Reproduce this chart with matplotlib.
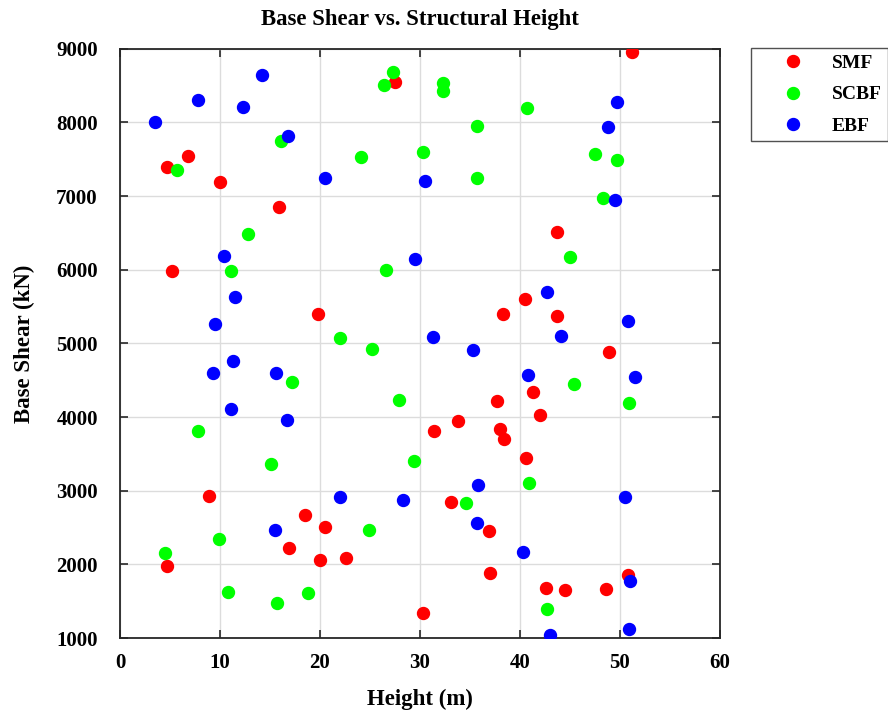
import matplotlib
matplotlib.use("Agg")
import matplotlib.pyplot as plt

# Height (m) and base shear (kN) for each system
smf_h = [27.5, 51.2, 6.75, 4.7, 10.0, 15.85, 43.7, 5.24, 19.8, 40.5, 38.3, 43.7,
         48.85, 41.25, 37.7, 42.0, 33.75, 31.4, 37.95, 38.4, 40.6, 8.9, 33.05, 18.5,
         20.46, 36.9, 16.9, 22.6, 19.95, 4.67, 36.97, 50.8, 42.6, 44.5, 48.6, 30.34]
smf_v = [8548, 8960, 7539, 7399, 7195, 6851, 6507, 5978, 5399, 5600, 5394, 5371,
         4887, 4335, 4213, 4023, 3946, 3806, 3833, 3702, 3448, 2932, 2842, 2665,
         2511, 2453, 2217, 2086, 2055, 1982, 1887, 1855, 1675, 1648, 1669, 1344]

scbf_h = [27.3, 26.4, 32.25, 32.25, 40.7, 35.7, 16.1, 47.5, 30.3, 24.05, 49.7, 5.67,
          35.7, 48.3, 12.8, 45.0, 26.6, 11.06, 21.97, 25.2, 17.2, 45.4, 27.86, 50.9,
          7.78, 15.1, 29.4, 40.85, 34.56, 24.9, 9.86, 4.54, 10.8, 18.8, 15.7, 42.7]
scbf_v = [8688, 8507, 8535, 8426, 8191, 7951, 7751, 7566, 7602, 7534, 7489, 7354,
          7241, 6978, 6489, 6172, 6000, 5978, 5066, 4919, 4480, 4448, 4227, 4195,
          3806, 3367, 3407, 3108, 2829, 2466, 2349, 2158, 1624, 1607, 1475, 1398]

ebf_h = [14.2, 7.8, 12.3, 3.5, 16.8, 49.7, 48.75, 20.5, 30.5, 49.45, 10.4, 29.5,
         42.7, 11.5, 50.8, 9.46, 44.1, 31.3, 35.3, 11.26, 9.29, 15.6, 40.8, 51.5,
         11.06, 16.7, 35.76, 22.04, 28.26, 50.5, 35.66, 15.5, 40.3, 50.95, 43.0, 50.9]
ebf_v = [8643, 8300, 8213, 8000, 7819, 8281, 7942, 7241, 7204, 6951, 6190, 6150,
         5693, 5634, 5304, 5258, 5104, 5090, 4910, 4765, 4602, 4602, 4575, 4539,
         4113, 3955, 3077, 2918, 2873, 2918, 2557, 2466, 2163, 1774, 1041, 1122]

x_ticks = [0, 10, 20, 30, 40, 50, 60]
y_ticks = [1000, 2000, 3000, 4000, 5000, 6000, 7000, 8000, 9000]

plt.rcParams['font.family'] = ['Liberation Serif', 'DejaVu Serif']
plt.rcParams['font.weight'] = 'bold'

fig = plt.figure(figsize=(8.88, 7.11), dpi=100)
ax = fig.add_axes([120 / 888, 73 / 711, 600 / 888, 589.3 / 711])

ms = 8.6
ax.plot(smf_h, smf_v, 'o', color=(1, 0, 0), ms=ms, label='SMF', zorder=3)
ax.plot(scbf_h, scbf_v, 'o', color=(0, 1, 0), ms=ms, label='SCBF', zorder=3)
ax.plot(ebf_h, ebf_v, 'o', color=(0, 0, 1), ms=ms, label='EBF', zorder=3)

ax.set_xlim(0, 60)
ax.set_ylim(1000, 9000)
ax.set_xticks(x_ticks)
ax.set_yticks(y_ticks)
ax.grid(True, color='#dcdcdc', linewidth=1.0)
ax.set_axisbelow(True)

ax.tick_params(direction='in', top=True, right=True, length=6, width=1.2,
               labelsize=15, color='#262626')
ax.tick_params(axis='x', pad=11)
ax.tick_params(axis='y', pad=16)
for s in ax.spines.values():
    s.set_linewidth(1.3)
    s.set_color('#262626')

ax.set_title('Base Shear vs. Structural Height', fontsize=16.4, fontweight='bold', pad=17)
ax.set_xlabel('Height (m)', fontsize=16.5, fontweight='bold', labelpad=11)
ax.set_ylabel('Base Shear (kN)', fontsize=16.5, fontweight='bold', labelpad=15)

leg = fig.legend(loc='upper left', bbox_to_anchor=(751 / 888, 1 - 48 / 711),
                 fontsize=14, frameon=True, fancybox=False, edgecolor='#262626',
                 handletextpad=0.21, borderpad=0.34, labelspacing=0.7,
                 handlelength=3.6, borderaxespad=0)
leg.get_frame().set_linewidth(1.0)

fig.savefig('out.png', dpi=100)
